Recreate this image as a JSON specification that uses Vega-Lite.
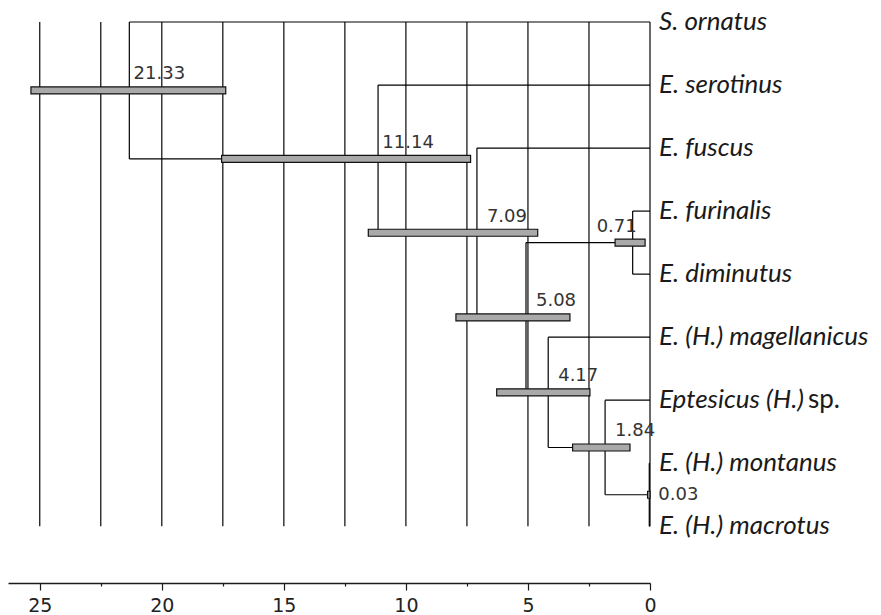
{
  "$schema": "https://vega.github.io/schema/vega-lite/v6.json",
  "autosize": {"type": "none"},
  "width": 642,
  "height": 561,
  "padding": {"left": 8, "top": 22, "right": 231, "bottom": 32},
  "background": "white",
  "config": {"view": {"stroke": null}},
  "resolve": {"axis": {"x": "independent", "y": "independent"}},
  "datasets": {
    "grid": [
      {"age": 25}, {"age": 22.5}, {"age": 20}, {"age": 17.5}, {"age": 15}, {"age": 12.5},
      {"age": 10}, {"age": 7.5}, {"age": 5}, {"age": 2.5}, {"age": 0}
    ],
    "branches": [
      {"x1": 21.33, "x2": 21.33, "y1": 0, "y2": 2.171875},
      {"x1": 11.14, "x2": 11.14, "y1": 1, "y2": 3.34375},
      {"x1": 7.09, "x2": 7.09, "y1": 2, "y2": 4.6875},
      {"x1": 5.08, "x2": 5.08, "y1": 3.5, "y2": 5.875},
      {"x1": 0.71, "x2": 0.71, "y1": 3, "y2": 4},
      {"x1": 4.17, "x2": 4.17, "y1": 5, "y2": 6.75},
      {"x1": 1.84, "x2": 1.84, "y1": 6, "y2": 7.5},
      {"x1": 0.03, "x2": 0.03, "y1": 7, "y2": 8},
      {"x1": 21.33, "x2": 0, "y1": 0, "y2": 0},
      {"x1": 21.33, "x2": 11.14, "y1": 2.171875, "y2": 2.171875},
      {"x1": 11.14, "x2": 0, "y1": 1, "y2": 1},
      {"x1": 11.14, "x2": 7.09, "y1": 3.34375, "y2": 3.34375},
      {"x1": 7.09, "x2": 0, "y1": 2, "y2": 2},
      {"x1": 7.09, "x2": 5.08, "y1": 4.6875, "y2": 4.6875},
      {"x1": 5.08, "x2": 0.71, "y1": 3.5, "y2": 3.5},
      {"x1": 0.71, "x2": 0, "y1": 3, "y2": 3},
      {"x1": 0.71, "x2": 0, "y1": 4, "y2": 4},
      {"x1": 5.08, "x2": 4.17, "y1": 5.875, "y2": 5.875},
      {"x1": 4.17, "x2": 0, "y1": 5, "y2": 5},
      {"x1": 4.17, "x2": 1.84, "y1": 6.75, "y2": 6.75},
      {"x1": 1.84, "x2": 0, "y1": 6, "y2": 6},
      {"x1": 1.84, "x2": 0.03, "y1": 7.5, "y2": 7.5},
      {"x1": 0.03, "x2": 0, "y1": 7, "y2": 7},
      {"x1": 0.03, "x2": 0, "y1": 8, "y2": 8}
    ],
    "nodes": [
      {"age": 21.33, "lo": 25.36, "hi": 17.38, "row": 1.0859375},
      {"age": 11.14, "lo": 17.55, "hi": 7.35, "row": 2.171875},
      {"age": 7.09, "lo": 11.54, "hi": 4.6, "row": 3.34375},
      {"age": 5.08, "lo": 7.95, "hi": 3.28, "row": 4.6875},
      {"age": 0.71, "lo": 1.43, "hi": 0.2, "row": 3.5},
      {"age": 4.17, "lo": 6.28, "hi": 2.46, "row": 5.875},
      {"age": 1.84, "lo": 3.17, "hi": 0.82, "row": 6.75},
      {"age": 0.03, "lo": 0.1, "hi": 0.0, "row": 7.5}
    ],
    "tips": [
      {"label": "S. ornatus", "row": 0, "age": 0},
      {"label": "E. serotinus", "row": 1, "age": 0},
      {"label": "E. fuscus", "row": 2, "age": 0},
      {"label": "E. furinalis", "row": 3, "age": 0},
      {"label": "E. diminutus", "row": 4, "age": 0},
      {"label": "E. (H.) magellanicus", "row": 5, "age": 0},
      {"label": "Eptesicus (H.)", "suffix": "sp.", "row": 6, "age": 0},
      {"label": "E. (H.) montanus", "row": 7, "age": 0},
      {"label": "E. (H.) macrotus", "row": 8, "age": 0}
    ]
  },
  "layer": [
    {
      "data": {"name": "grid"},
      "mark": {"type": "rule", "color": "#1a1a1a", "strokeWidth": 1.3},
      "encoding": {
        "x": {
          "field": "age", "type": "quantitative",
          "scale": {"domain": [0, 26.3], "reverse": true, "nice": false, "zero": false, "padding": 0},
          "axis": {
            "title": null,
            "grid": false,
            "values": [25, 22.5, 20, 17.5, 15, 12.5, 10, 7.5, 5, 2.5, 0],
            "labelExpr": "datum.value % 5 === 0 ? datum.label : ''",
            "tickSize": {"condition": {"test": "datum.value % 5 === 0", "value": 7}, "value": 3},
            "tickColor": "#1a1a1a",
            "tickWidth": 1.2,
            "domainColor": "#1a1a1a",
            "domainWidth": 1.3,
            "labelFont": "DejaVu Sans",
            "labelFontSize": 19,
            "labelColor": "#222",
            "labelPadding": 6,
            "labelDx": 5,
            "labelFlush": false,
            "labelOverlap": false,
            "labelBound": false
          }
        },
        "y": {"datum": 0, "type": "quantitative", "scale": {"domain": [0, 8.9], "reverse": true, "nice": false, "zero": false, "padding": 0}, "axis": null},
        "y2": {"datum": 8}
      }
    },
    {
      "data": {"name": "branches"},
      "mark": {"type": "rule", "color": "#000", "strokeWidth": 1.2},
      "encoding": {
        "x": {"field": "x1", "type": "quantitative", "axis": null},
        "x2": {"field": "x2"},
        "y": {"field": "y1", "type": "quantitative", "axis": null},
        "y2": {"field": "y2"}
      }
    },
    {
      "data": {"name": "nodes"},
      "mark": {"type": "bar", "orient": "horizontal", "size": 7, "fill": "#a9a9a9", "stroke": "#111", "strokeWidth": 1.2},
      "encoding": {
        "x": {"field": "lo", "type": "quantitative", "axis": null},
        "x2": {"field": "hi"},
        "y": {"field": "row", "type": "quantitative", "axis": null}
      }
    },
    {
      "data": {"name": "nodes"},
      "transform": [{"filter": "datum.age != 0.71 && datum.age != 0.03"}],
      "mark": {"type": "text", "font": "DejaVu Sans", "fontSize": 18, "color": "#333", "align": "center", "baseline": "middle", "dx": 30, "dy": -16},
      "encoding": {
        "x": {"field": "age", "type": "quantitative", "axis": null},
        "y": {"field": "row", "type": "quantitative", "axis": null},
        "text": {"field": "age", "type": "quantitative", "format": ".2f"}
      }
    },
    {
      "data": {"name": "nodes"},
      "transform": [{"filter": "datum.age == 0.71"}],
      "mark": {"type": "text", "font": "DejaVu Sans", "fontSize": 18, "color": "#333", "align": "center", "baseline": "middle", "dx": -16, "dy": -16},
      "encoding": {
        "x": {"field": "age", "type": "quantitative", "axis": null},
        "y": {"field": "row", "type": "quantitative", "axis": null},
        "text": {"field": "age", "type": "quantitative", "format": ".2f"}
      }
    },
    {
      "data": {"name": "nodes"},
      "transform": [{"filter": "datum.age == 0.03"}],
      "mark": {"type": "text", "font": "DejaVu Sans", "fontSize": 18, "color": "#333", "align": "left", "baseline": "middle", "dx": 9, "dy": 0},
      "encoding": {
        "x": {"field": "age", "type": "quantitative", "axis": null},
        "y": {"field": "row", "type": "quantitative", "axis": null},
        "text": {"field": "age", "type": "quantitative", "format": ".2f"}
      }
    },
    {
      "data": {"name": "tips"},
      "mark": {"type": "text", "font": "Lato", "fontStyle": "italic", "fontSize": 26, "color": "#1a1a1a", "align": "left", "baseline": "middle", "dx": 9},
      "encoding": {
        "x": {"field": "age", "type": "quantitative", "axis": null},
        "y": {"field": "row", "type": "quantitative", "axis": null},
        "text": {"field": "label"}
      }
    },
    {
      "data": {"name": "tips"},
      "transform": [{"filter": "datum.suffix != null"}],
      "mark": {"type": "text", "font": "Lato", "fontStyle": "normal", "fontSize": 26, "color": "#1a1a1a", "align": "left", "baseline": "middle", "dx": 158},
      "encoding": {
        "x": {"field": "age", "type": "quantitative", "axis": null},
        "y": {"field": "row", "type": "quantitative", "axis": null},
        "text": {"field": "suffix"}
      }
    }
  ]
}
